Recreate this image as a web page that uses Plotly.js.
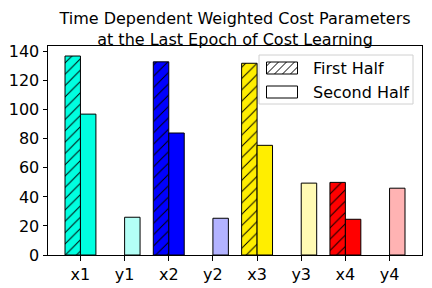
<!DOCTYPE html>
<html><head><meta charset="utf-8">
<script src="https://cdn.plot.ly/plotly-3.0.1.min.js"></script>
<style>html,body{margin:0;padding:0;background:#fff}#chart{width:432px;height:288px}</style>
</head><body><div id="chart"></div>
<script>
const categories = ["x1","y1","x2","y2","x3","y3","x4","y4"];
const firstHalf = [137, 0, 133, 0, 132, 0, 50, 0];
const secondHalf = [97, 26, 84, 25.3, 75.5, 49.5, 24.6, 46];
const barColors = ["#00ffe0","#b3fff6","#0000ff","#b3b3ff","#ffee00","#fffab3","#ff0000","#ffb3b3"];
const seriesNames = ["First Half","Second Half"];

const W = 432, H = 288, M = {l:48, r:10, t:46, b:33};
const PW = W - M.l - M.r, PH = H - M.t - M.b;
const px2x = p => (p - M.l) / PW;
const py2y = p => (H - M.b - p) / PH;

const font = {family: "DejaVu Sans", size: 16, color: "#000"};
const data = [];
// first half: one trace per category so each keeps a black hatch over its own colour
categories.forEach((c, i) => {
  data.push({type:"bar", x:[c], y:[firstHalf[i]], width:0.35, offset:-0.35, showlegend:false,
    marker:{color:barColors[i], line:{color:"#000", width:firstHalf[i] > 0 ? 1 : 0},
      pattern:{shape:"/", fgcolor:"#000000", fgopacity:1, size:8, solidity:0.12, fillmode:"overlay"}}});
});
data.push({type:"bar", x:categories, y:secondHalf, width:0.35, offset:0, showlegend:false,
   marker:{color:barColors, line:{color:"#000", width:secondHalf.map(v => v > 0 ? 1 : 0)}}});

// manual legend (box, swatches, hatch, labels)
const shapes = [];
const annotations = [];
const box = {x0:259, x1:413, y0:55, y1:104};
shapes.push({type:"rect", xref:"paper", yref:"paper", x0:px2x(box.x0), x1:px2x(box.x1), y0:py2y(box.y1), y1:py2y(box.y0),
  line:{color:"#d0d0d0", width:1}, fillcolor:"rgba(255,255,255,0.85)", layer:"above"});
const sw = [{x0:266.5, x1:297.5, y0:62, y1:74}, {x0:266.5, x1:297.5, y0:86, y1:98}];
sw.forEach((s, i) => {
  shapes.push({type:"rect", xref:"paper", yref:"paper", x0:px2x(s.x0), x1:px2x(s.x1), y0:py2y(s.y1), y1:py2y(s.y0),
    line:{color:"#000", width:1}, fillcolor:"#fff", layer:"above"});
  annotations.push({text:seriesNames[i], xref:"paper", yref:"paper", x:px2x(311), y:py2y((s.y0+s.y1)/2),
    xanchor:"left", yanchor:"middle", showarrow:false, font:font});
});
// hatch lines for first swatch (45 degree, clipped to swatch)
{
  const s = sw[0], h = s.y1 - s.y0;
  for (let c = s.x0 - h + 4; c < s.x1; c += 8) {
    let xa = c, ya = s.y1, xb = c + h, yb = s.y0;
    if (xa < s.x0) { ya -= (s.x0 - xa); xa = s.x0; }
    if (xb > s.x1) { yb += (xb - s.x1); xb = s.x1; }
    if (xb <= xa) continue;
    shapes.push({type:"line", xref:"paper", yref:"paper", x0:px2x(xa), y0:py2y(ya), x1:px2x(xb), y1:py2y(yb),
      line:{color:"#000", width:1}, layer:"above"});
  }
}

const layout = {
  width:W, height:H, margin:M,
  paper_bgcolor:"#fff", plot_bgcolor:"#fff", font:font, barmode:"overlay", showlegend:false,
  title:{text:"Time Dependent Weighted Cost Parameters<br>at the Last Epoch of Cost Learning",
    font:{family:"DejaVu Sans", size:16, color:"#000"}, xref:"paper", x:0.5, xanchor:"center",
    yref:"container", y:1 - 24/H, yanchor:"top"},
  xaxis:{type:"category", categoryorder:"array", categoryarray:categories, range:[-0.735, 7.735],
    showline:true, mirror:true, linecolor:"#000", linewidth:1,
    ticks:"outside", ticklen:4.5, tickcolor:"#000", showgrid:false, zeroline:false, tickfont:font},
  yaxis:{range:[0, 143.9], showline:true, mirror:true, linecolor:"#000", linewidth:1,
    ticks:"outside", ticklen:4.5, tickcolor:"#000", showgrid:false, zeroline:false, dtick:20, tickfont:font},
  shapes:shapes, annotations:annotations
};
Plotly.newPlot("chart", data, layout, {staticPlot:true, displayModeBar:false});
</script></body></html>
